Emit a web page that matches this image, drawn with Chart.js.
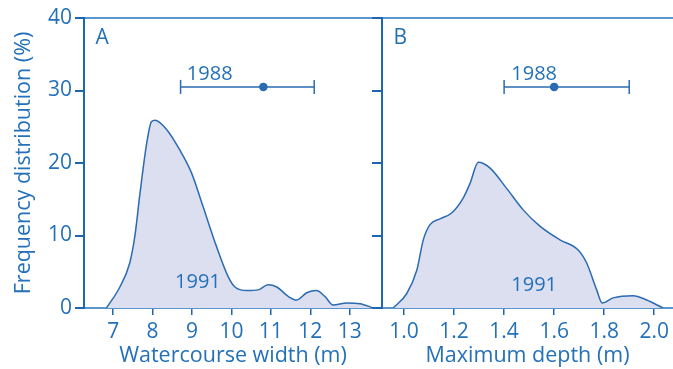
<!DOCTYPE html>
<html>
<head>
<meta charset="utf-8">
<script src="https://cdn.jsdelivr.net/npm/chart.js@4.4.1/dist/chart.umd.min.js"></script>
<style>
  html, body { margin: 0; padding: 0; background: #fff; }
  #wrap { position: relative; width: 673px; height: 369px; overflow: hidden; }
  canvas { position: absolute; top: 0; }
</style>
</head>
<body>
<div id="wrap">
  <canvas id="chartA" width="382" height="369" style="left:0"></canvas>
  <canvas id="chartB" width="303" height="369" style="left:370px"></canvas>
</div>
<script>
// Painel A: largura do curso de água (1991)
const widthX = [6.83, 7.17, 7.42, 7.55, 7.68, 7.85, 7.97, 8.06, 8.36, 8.69, 8.99, 9.28, 9.62, 9.92, 10.09, 10.39, 10.68, 10.93, 11.15, 11.44, 11.65, 11.91, 12.16, 12.37, 12.58, 12.92, 13.26, 13.6];
const widthY = [0, 2.9, 6.2, 9.9, 15.8, 22.7, 25.7, 25.9, 24.6, 21.8, 18.6, 14.0, 8.5, 4.3, 2.9, 2.4, 2.5, 3.2, 2.9, 1.6, 1.1, 2.1, 2.4, 1.6, 0.4, 0.7, 0.6, 0];
// 1988: mínimo, média, máximo
const width1988 = [8.71, 10.81, 12.10];

// Painel B: profundidade máxima (1991)
const depthX = [0.957, 1.011, 1.051, 1.077, 1.104, 1.144, 1.19, 1.237, 1.264, 1.297, 1.344, 1.41, 1.477, 1.543, 1.623, 1.696, 1.73, 1.77, 1.792, 1.836, 1.916, 1.97, 2.035];
const depthY = [0, 2.0, 5.2, 9.4, 11.5, 12.3, 13.1, 15.2, 17.2, 20.1, 19.3, 16.5, 13.5, 11.3, 9.4, 8.0, 6.2, 2.5, 0.7, 1.4, 1.7, 1.1, 0];
const depth1988 = [1.40, 1.60, 1.90];

const level1988 = 30.5;
const yTicks = [0, 10, 20, 30, 40];
const widthTicks = [7, 8, 9, 10, 11, 12, 13];
const depthTicks = [1.0, 1.2, 1.4, 1.6, 1.8, 2.0];

const textColor = "#2471b9";
const lineColor = "#2a6bb2";
const axisColor = "#1e66b0";
const topColor = "#5b95cd";
const fillColor = "#dcdff0";
const fontFamily = "'Open Sans', sans-serif";

// Plugin simples para escrever os rótulos dentro do gráfico
const panelLabels = {
  id: "panelLabels",
  afterDatasetsDraw(chart, args, opts) {
    const { ctx, scales } = chart;
    ctx.save();
    ctx.fillStyle = textColor;
    ctx.textBaseline = "middle";
    opts.items.forEach((it) => {
      ctx.font = `${it.size || 20}px ${fontFamily}`;
      ctx.textAlign = it.align || "center";
      ctx.fillText(it.text, scales.x.getPixelForValue(it.x), scales.y.getPixelForValue(it.y));
    });
    ctx.restore();
  },
};

function erroBar(vals) {
  return {
    data: vals.map((v) => ({ x: v, y: level1988 })),
    borderColor: lineColor,
    borderWidth: 1.5,
    pointStyle: ["line", "circle", "line"],
    rotation: [90, 0, 90],
    pointRadius: [7, 3.5, 7],
    pointBorderWidth: 1.5,
    pointBackgroundColor: lineColor,
    pointBorderColor: lineColor,
    fill: false,
    tension: 0,
  };
}

function criarGrafico(id, cfg) {
  const ctx = document.getElementById(id).getContext("2d");
  return new Chart(ctx, {
    type: "line",
    data: {
      datasets: [
        {
          data: cfg.xs.map((v, i) => ({ x: v, y: cfg.ys[i] })),
          borderColor: lineColor,
          borderWidth: 1.5,
          backgroundColor: fillColor,
          fill: "origin",
          pointRadius: 0,
          cubicInterpolationMode: "monotone",
        },
        erroBar(cfg.bar),
      ],
    },
    plugins: [panelLabels],
    options: {
      responsive: false,
      animation: false,
      devicePixelRatio: 1,
      layout: { autoPadding: false, padding: { top: 18, left: 0, right: 0, bottom: 0 } },
      plugins: {
        legend: { display: false },
        tooltip: { enabled: false },
        panelLabels: { items: cfg.labels },
      },
      scales: {
        x: {
          type: "linear",
          min: cfg.min,
          max: cfg.max,
          afterBuildTicks: (s) => { s.ticks = cfg.ticks.map((v) => ({ value: v })); },
          afterFit: (s) => { s.height = 61; s.paddingLeft = 0; s.paddingRight = 0; },
          border: { color: topColor, width: 2 },
          grid: { drawOnChartArea: false, tickLength: 7, tickColor: axisColor, lineWidth: 1.5 },
          ticks: {
            color: textColor,
            padding: 4,
            maxRotation: 0,
            autoSkip: false,
            font: { family: fontFamily, size: 21 },
            callback: cfg.fmt,
          },
          title: {
            display: true,
            text: cfg.title,
            color: textColor,
            font: { family: fontFamily, size: 21.5 },
            padding: { top: 0, bottom: 0 },
          },
        },
        y: {
          min: 0,
          max: 40,
          afterBuildTicks: (s) => { s.ticks = yTicks.map((v) => ({ value: v })); },
          afterFit: (s) => { s.width = cfg.yWidth; s.paddingTop = 0; s.paddingBottom = 0; },
          border: { color: axisColor, width: 2 },
          grid: {
            color: (c) => (c.tick && c.tick.value === 40 ? topColor : "rgba(0,0,0,0)"),
            lineWidth: 2,
            tickColor: axisColor,
            tickLength: cfg.yTickLen,
          },
          ticks: {
            display: cfg.showY,
            color: textColor,
            padding: 3,
            font: { family: fontFamily, size: 21 },
          },
          title: {
            display: cfg.showY,
            text: "Frequency distribution (%)",
            color: textColor,
            font: { family: fontFamily, size: 21.5 },
            padding: { top: 11, bottom: 0 },
          },
        },
      },
    },
  });
}

criarGrafico("chartA", {
  xs: widthX, ys: widthY, bar: width1988,
  min: 6.26, max: 13.82, ticks: widthTicks,
  fmt: (v) => String(v),
  title: "Watercourse width (m)",
  yWidth: 84, yTickLen: 9, showY: true,
  labels: [
    { text: "A", x: 6.55, y: 37.2, align: "left", size: 21 },
    { text: "1988", x: 9.45, y: 32.3 },
    { text: "1991", x: 9.15, y: 3.6 },
  ],
});

criarGrafico("chartB", {
  xs: depthX, ys: depthY, bar: depth1988,
  min: 0.912, max: 2.075, ticks: depthTicks,
  fmt: (v) => v.toFixed(1),
  title: "Maximum depth (m)",
  yWidth: 12, yTickLen: 10, showY: false,
  labels: [
    { text: "B", x: 0.958, y: 37.2, align: "left", size: 21 },
    { text: "1988", x: 1.52, y: 32.3 },
    { text: "1991", x: 1.52, y: 3.2 },
  ],
});
</script>
</body>
</html>
